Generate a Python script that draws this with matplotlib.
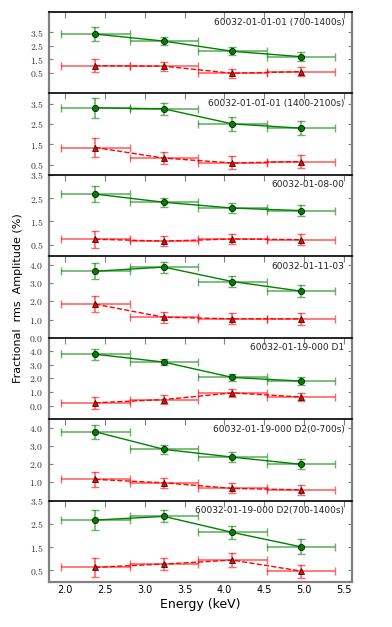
import matplotlib
matplotlib.use("Agg")
import matplotlib.pyplot as plt
from matplotlib.ticker import FormatStrFormatter

plt.rcParams['mathtext.fontset'] = 'cm'

# Energy bins (keV)
energia = [2.38, 3.24, 4.10, 4.96]
semiancho = [0.43, 0.43, 0.43, 0.43]

etiquetas = ["60032-01-01-01 (700-1400s)",
             "60032-01-01-01 (1400-2100s)",
             "60032-01-08-00",
             "60032-01-11-03",
             "60032-01-19-000 D1",
             "60032-01-19-000 D2(0-700s)",
             "60032-01-19-000 D2(700-1400s)"]

# green circles
verde = [[3.37, 2.85, 2.10, 1.70],
         [3.29, 3.24, 2.50, 2.29],
         [2.67, 2.32, 2.07, 1.96],
         [3.67, 3.90, 3.10, 2.57],
         [3.78, 3.20, 2.07, 1.80],
         [3.80, 2.83, 2.40, 2.00],
         [2.66, 2.82, 2.13, 1.51]]
verde_err = [[0.49, 0.28, 0.30, 0.33],
             [0.49, 0.31, 0.33, 0.33],
             [0.36, 0.20, 0.22, 0.23],
             [0.44, 0.30, 0.31, 0.34],
             [0.42, 0.25, 0.27, 0.28],
             [0.40, 0.25, 0.26, 0.28],
             [0.42, 0.26, 0.28, 0.32]]

# red triangles
rojo = [[1.04, 1.00, 0.48, 0.60],
        [1.34, 0.82, 0.58, 0.65],
        [0.73, 0.65, 0.74, 0.71],
        [1.85, 1.13, 1.04, 1.04],
        [0.20, 0.44, 0.93, 0.63],
        [1.17, 0.98, 0.67, 0.59],
        [0.63, 0.77, 0.94, 0.47]]
rojo_err = [[0.47, 0.32, 0.33, 0.34],
            [0.48, 0.31, 0.32, 0.32],
            [0.36, 0.21, 0.23, 0.23],
            [0.44, 0.30, 0.31, 0.33],
            [0.44, 0.30, 0.27, 0.31],
            [0.40, 0.28, 0.28, 0.29],
            [0.41, 0.26, 0.29, 0.28]]

limites_y = [(-1, 5), (0, 4), (0, 3.5), (0, 4.5), (-1, 5), (0, 4.5), (0, 3.5)]
ticks_y = [[0.5, 1.5, 2.5, 3.5], [0.5, 1.5, 2.5, 3.5], [0.5, 1.5, 2.5, 3.5],
           [0, 1, 2, 3, 4], [0, 1, 2, 3, 4], [1, 2, 3, 4],
           [0.5, 1.5, 2.5, 3.5]]
ticks_x = [2.0, 2.5, 3.0, 3.5, 4.0, 4.5, 5.0, 5.5]

fig, axes = plt.subplots(7, 1, sharex=True, figsize=(3.92, 6.27), dpi=100)
fig.subplots_adjust(left=0.125, right=0.898, bottom=0.0718, top=0.981, hspace=0)

gris = '#808080'
for i, ax in enumerate(axes):
    # red
    ax.errorbar(energia, rojo[i], xerr=semiancho, yerr=rojo_err[i], fmt='none',
                ecolor='red', alpha=0.6, elinewidth=1.2, capsize=3, capthick=1)
    ax.plot(energia, rojo[i], '--', color='red', lw=1)
    ax.plot(energia, rojo[i], '^', color='red', mec='black', mew=0.5, ms=4.5)
    # green
    ax.errorbar(energia, verde[i], xerr=semiancho, yerr=verde_err[i], fmt='none',
                ecolor='green', alpha=0.6, elinewidth=1.2, capsize=3, capthick=1)
    ax.plot(energia, verde[i], '-', color='green', lw=1)
    ax.plot(energia, verde[i], 'o', color='green', mec='black', mew=0.5, ms=4.5)

    ax.text(0.975, 0.93, etiquetas[i], transform=ax.transAxes, ha='right', va='top',
            fontsize=6.5, color='#222222')

    ax.set_ylim(limites_y[i])
    ax.set_yticks(ticks_y[i])
    ax.yaxis.set_major_formatter(FormatStrFormatter(r'$%.1f$'))
    ax.set_xlim(1.8, 5.6)
    ax.set_xticks(ticks_x)

    ax.spines['top'].set_color('black')
    ax.spines['top'].set_linewidth(1.2)
    for lado in ['left', 'right', 'bottom']:
        ax.spines[lado].set_color(gris)
        ax.spines[lado].set_linewidth(1.6)
    if i < 6:
        ax.spines['bottom'].set_visible(False)

    ax.tick_params(axis='y', which='both', direction='in', left=True, right=True,
                   length=3, color=gris, labelsize=7, pad=4, labelcolor='#333333')
    ax.tick_params(axis='x', direction='in', top=True, bottom=False,
                   length=4, color=gris, labelsize=7, pad=2)

axes[-1].set_xlabel("Energy (keV)", fontsize=9, labelpad=2)
fig.text(0.045, 0.525, "Fractional  rms  Amplitude (%)", rotation=90,
         ha='center', va='center', fontsize=8)

plt.savefig("out.png", dpi=100)
